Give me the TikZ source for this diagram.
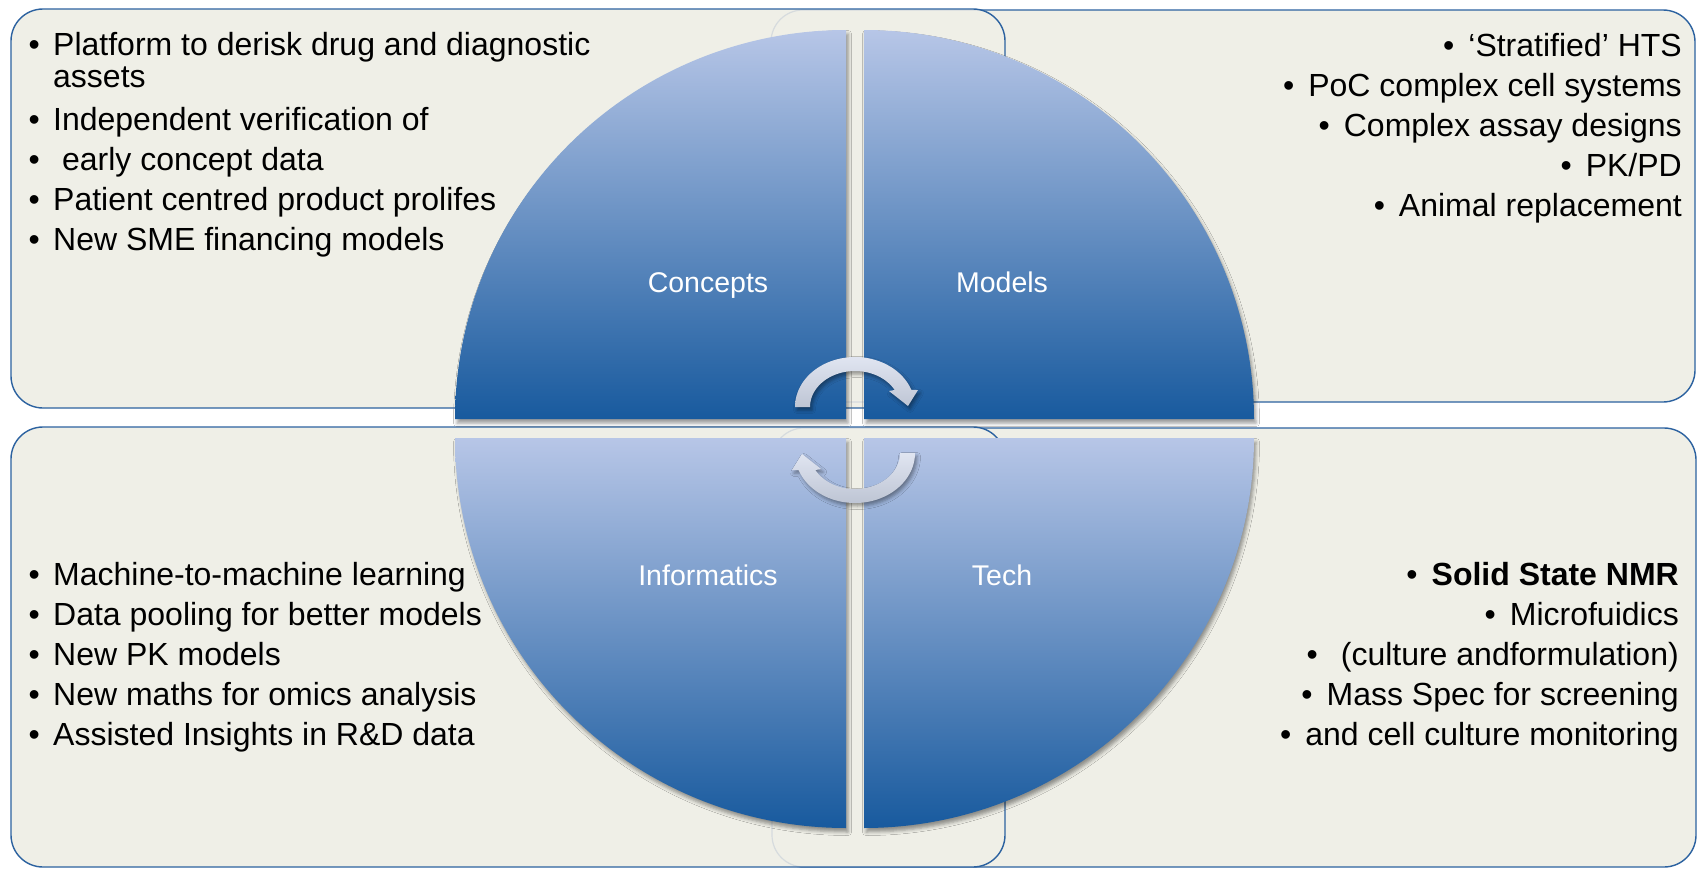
\documentclass[tikz,border=0pt]{standalone}
\usepackage{fontspec}
\setmainfont{Liberation Sans}
\usetikzlibrary{shadows.blur}
\definecolor{boxfill}{RGB}{239,239,231}
\definecolor{boxline}{RGB}{44,98,160}
\definecolor{faintc}{RGB}{214,219,222}
\definecolor{pietop}{RGB}{183,198,231}
\definecolor{piebot}{RGB}{24,90,158}
\definecolor{arrtop}{RGB}{224,229,241}
\definecolor{arrbot}{RGB}{190,197,212}
\begin{document}
\begin{tikzpicture}[x=1pt,y=-1pt,
  boxfillstyle/.style={fill=boxfill, rounded corners=32pt},
  boxlinestyle/.style={draw=boxline, line width=1.4pt, rounded corners=32pt},
  faintline/.style={draw=faintc, line width=1.2pt, rounded corners=32pt},
  piestyle/.style={top color=pietop, bottom color=piebot,
    blur shadow={shadow xshift=2pt, shadow yshift=-4pt, shadow blur radius=3.5pt, shadow opacity=40}},
  cyclearrow/.style={top color=arrtop, bottom color=arrbot,
    blur shadow={shadow xshift=2pt, shadow yshift=-3pt, shadow blur radius=3.5pt, shadow opacity=40}},
  itm/.style={font=\fontsize{32}{38}\selectfont, inner sep=0pt, text=black},
  lbl/.style={font=\fontsize{28.5}{34}\selectfont, inner sep=0pt, text=white, anchor=base}
]
\fill[white] (0,0) rectangle (1698,870);
\useasboundingbox (0,0) rectangle (1698,870);

% ---- top row boxes
\path[boxfillstyle, boxlinestyle] (771,10) rectangle (1695,402);
\path[boxfillstyle] (11,9) rectangle (1005,408);
\begin{scope}
  \clip[rounded corners=32pt] (11,9) rectangle (1005,408);
  \path[faintline] (771,10) rectangle (1695,402);
\end{scope}
\path[boxlinestyle] (11,9) rectangle (1005,408);

% ---- bottom row boxes
\path[boxfillstyle, boxlinestyle] (772,428) rectangle (1696,867);
\path[boxfillstyle] (11,427) rectangle (1005,867);
\begin{scope}
  \clip[rounded corners=32pt] (11,427) rectangle (1005,867);
  \path[faintline] (772,428) rectangle (1696,867);
\end{scope}
\path[boxlinestyle] (11,427) rectangle (1005,867);

% ---- quarter discs
\path[piestyle] (846,419) -- plot[domain=180:270, samples=91] ({846+391*cos(\x)},{419+389*sin(\x)}) -- cycle;
\path[piestyle] (864,419) -- plot[domain=270:360, samples=91] ({864+390*cos(\x)},{419+389*sin(\x)}) -- cycle;
\path[piestyle] (846,438) -- plot[domain=90:180, samples=91] ({846+391*cos(\x)},{438+390*sin(\x)}) -- cycle;
\path[piestyle] (864,438) -- plot[domain=0:90, samples=91] ({864+390*cos(\x)},{438+390*sin(\x)}) -- cycle;

% ---- circular arrows
\path[cyclearrow] plot[domain=180:340.1, samples=60] ({855+60*cos(\x)},{407+50*sin(\x)})
  -- (918,390) -- (908,406) -- (889,391)
  -- plot[domain=331.8:180, samples=60] ({855+45*cos(\x)},{407+36*sin(\x)}) -- cycle;
\path[cyclearrow] plot[domain=0:160.1, samples=60] ({855+60*cos(\x)},{453+50*sin(\x)})
  -- (792,470) -- (802,454) -- (821,469)
  -- plot[domain=151.8:0, samples=60] ({855+45*cos(\x)},{453+36*sin(\x)}) -- cycle;

% ---- quarter labels
\node[lbl] (concepts) at (708,292) {Concepts};
\node[lbl] (models) at (1002,292) {Models};
\node[lbl] (informatics) at (708,585) {Informatics};
\node[lbl] (tech) at (1002,585) {Tech};

% ---- top-left list
\node[itm, anchor=base west] (tl1) at (28.4,55) {•\hspace{13.4pt}Platform to derisk drug and diagnostic};
\node[itm, anchor=base west] (tl1b) at (53,87) {assets};
\node[itm, anchor=base west] (tl2) at (28.4,130) {•\hspace{13.4pt}Independent verification of};
\node[itm, anchor=base west] (tl3) at (28.4,170) {•\hspace{22.3pt}early concept data};
\node[itm, anchor=base west] (tl4) at (28.4,210) {•\hspace{13.4pt}Patient centred product prolifes};
\node[itm, anchor=base west] (tl5) at (28.4,250) {•\hspace{13.4pt}New SME financing models};

% ---- top-right list
\node[itm, anchor=base east] (tr1) at (1682,56) {•\hspace{14pt}‘Stratified’ HTS};
\node[itm, anchor=base east] (tr2) at (1682,96) {•\hspace{14pt}PoC complex cell systems};
\node[itm, anchor=base east] (tr3) at (1682,136) {•\hspace{14pt}Complex assay designs};
\node[itm, anchor=base east] (tr4) at (1682,176) {•\hspace{14pt}PK/PD};
\node[itm, anchor=base east] (tr5) at (1682,216) {•\hspace{14pt}Animal replacement};

% ---- bottom-left list
\node[itm, anchor=base west] (bl1) at (28.4,585) {•\hspace{13.4pt}Machine-to-machine learning};
\node[itm, anchor=base west] (bl2) at (28.4,625) {•\hspace{13.4pt}Data pooling for better models};
\node[itm, anchor=base west] (bl3) at (28.4,665) {•\hspace{13.4pt}New PK models};
\node[itm, anchor=base west] (bl4) at (28.4,705) {•\hspace{13.4pt}New maths for omics analysis};
\node[itm, anchor=base west] (bl5) at (28.4,745) {•\hspace{13.4pt}Assisted Insights in R\&D data};

% ---- bottom-right list
\node[itm, anchor=base east] (br1) at (1679,585) {•\hspace{14pt}\bfseries Solid State NMR};
\node[itm, anchor=base east] (br2) at (1679,625) {•\hspace{14pt}Microfuidics};
\node[itm, anchor=base east] (br3) at (1679,665) {•\hspace{23pt}(culture andformulation)};
\node[itm, anchor=base east] (br4) at (1679,705) {•\hspace{14pt}Mass Spec for screening};
\node[itm, anchor=base east] (br5) at (1679,745) {•\hspace{14pt}and cell culture monitoring};
\end{tikzpicture}
\end{document}
